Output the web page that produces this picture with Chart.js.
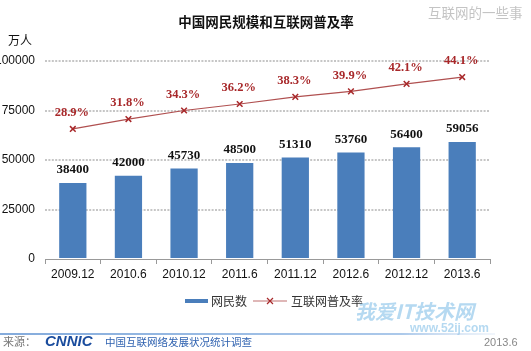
<!DOCTYPE html>
<html>
<head>
<meta charset="utf-8">
<script src="https://cdn.jsdelivr.net/npm/chart.js@4"></script>
<style>
  html, body { margin: 0; padding: 0; background: #fff; }
  #wrap { width: 531px; height: 351px; position: relative; }
</style>
</head>
<body>
<div id="wrap"><canvas id="chart" width="531" height="351"></canvas></div>
<script>
// data
const periods = ['2009.12', '2010.6', '2010.12', '2011.6', '2011.12', '2012.6', '2012.12', '2013.6'];
const netizens = [38400, 42000, 45730, 48500, 51310, 53760, 56400, 59056];
const penetration = [28.9, 31.8, 34.3, 36.2, 38.3, 39.9, 42.1, 44.1];
const yTicks = [0, 25000, 50000, 75000, 100000];

const CJK = '"Noto Sans CJK SC", sans-serif';
const BLUE = '#4a7ebb';
const RED = '#a8282a';

// texts around the plot + value labels
const decor = {
  id: 'decor',
  afterDatasetsDraw(chart) {
    const c = chart.ctx;
    c.save();

    // value labels above bars
    c.textAlign = 'center';
    c.textBaseline = 'middle';
    c.font = 'bold 13px "Liberation Serif", serif';
    c.fillStyle = '#111';
    chart.getDatasetMeta(1).data.forEach((el, i) => {
      c.fillText(String(netizens[i]), el.x, el.y - 13);
    });
    // percentage labels above line points
    c.font = 'bold 12.5px "Liberation Serif", serif';
    c.fillStyle = RED;
    chart.getDatasetMeta(0).data.forEach((el, i) => {
      c.fillText(penetration[i].toFixed(1) + '%', el.x - 1, el.y - 16);
    });
    c.restore();
  },
  afterDraw(chart) {
    const c = chart.ctx;
    c.save();
    c.textBaseline = 'middle';

    // title
    c.textAlign = 'center';
    c.fillStyle = '#111';
    c.font = 'bold 13.5px ' + CJK;
    c.fillText('中国网民规模和互联网普及率', 266, 22);

    // watermark top right
    c.textAlign = 'left';
    c.fillStyle = '#c4c4c4';
    c.font = '13.5px ' + CJK;
    c.fillText('互联网的一些事', 428, 13);

    // unit
    c.fillStyle = '#111';
    c.font = '12px ' + CJK;
    c.fillText('万人', 8, 40);

    // legend
    c.fillStyle = BLUE;
    c.fillRect(185, 299, 23, 4);
    c.fillStyle = '#333';
    c.font = '12px ' + CJK;
    c.fillText('网民数', 211, 301);
    c.strokeStyle = '#c07070';
    c.lineWidth = 1.2;
    c.beginPath(); c.moveTo(253, 301); c.lineTo(287, 301); c.stroke();
    c.strokeStyle = RED;
    c.beginPath();
    c.moveTo(267, 298); c.lineTo(273, 304);
    c.moveTo(273, 298); c.lineTo(267, 304);
    c.stroke();
    c.fillStyle = '#333';
    c.fillText('互联网普及率', 291, 301);

    // 52ij watermark
    c.fillStyle = 'rgba(90,170,225,0.45)';
    c.font = 'bold italic 20px ' + CJK;
    c.fillText('我爱IT技术网', 355, 311);
    c.font = 'bold 12px "Liberation Sans", sans-serif';
    c.fillText('www.52ij.com', 410, 329);

    // footer
    const g = c.createLinearGradient(0, 0, 500, 0);
    g.addColorStop(0, '#5b8fd0');
    g.addColorStop(0.8, '#8fb6e3');
    g.addColorStop(1, 'rgba(180,205,235,0.2)');
    c.strokeStyle = g;
    c.lineWidth = 1.5;
    c.beginPath(); c.moveTo(0, 334); c.lineTo(495, 334); c.stroke();
    c.fillStyle = '#777';
    c.font = '11px ' + CJK;
    c.fillText('来源：', 3, 342);
    c.fillStyle = '#1b4d9e';
    c.font = 'bold italic 15px "Liberation Sans", sans-serif';
    c.fillText('CNNIC', 45, 342);
    c.fillStyle = '#2f62b0';
    c.font = '10.5px ' + CJK;
    c.fillText('中国互联网络发展状况统计调查', 105, 342);
    c.fillStyle = '#888';
    c.font = '11px "Liberation Sans", sans-serif';
    c.fillText('2013.6', 484, 343);

    c.restore();
  }
};

new Chart(document.getElementById('chart'), {
  data: {
    labels: periods,
    datasets: [
      {
        type: 'line',
        label: '互联网普及率',
        data: penetration,
        yAxisID: 'y2',
        borderColor: '#b05050',
        borderWidth: 1.2,
        pointStyle: 'crossRot',
        pointRadius: 4,
        pointBorderWidth: 1.5,
        pointBorderColor: RED,
        tension: 0,
        order: 0
      },
      {
        type: 'bar',
        label: '网民数',
        data: netizens,
        yAxisID: 'y',
        backgroundColor: BLUE,
        categoryPercentage: 1,
        barPercentage: 0.49,
        order: 1
      }
    ]
  },
  options: {
    responsive: false,
    animation: false,
    events: [],
    layout: { padding: { top: 61, right: 41, bottom: 62, left: 0 } },
    plugins: {
      legend: { display: false },
      title: { display: false },
      tooltip: { enabled: false }
    },
    scales: {
      x: {
        offset: true,
        grid: { drawOnChartArea: false, drawTicks: true, tickLength: 5, color: '#999', offset: true },
        border: { display: true, color: '#999', width: 1 },
        ticks: { padding: 3, color: '#111', font: { family: '"Liberation Sans", sans-serif', size: 12 } },
        afterFit(s) { s.height = 30; }
      },
      y: {
        min: 0,
        max: 100000,
        afterBuildTicks(s) { s.ticks = yTicks.map(v => ({ value: v })); },
        grid: {
          drawTicks: false,
          lineWidth: 2,
          color: ctx => (ctx.tick && ctx.tick.value === 0) ? 'rgba(0,0,0,0)' : '#c6c6c6'
        },
        border: { display: false, dash: [2, 1.4] },
        ticks: {
          padding: 10,
          color: '#111',
          font: { family: '"Liberation Sans", sans-serif', size: 12 },
          callback: v => String(v)
        },
        afterFit(s) { s.width = 45; }
      },
      y2: {
        display: false,
        min: -9.2,
        max: 48.8
      }
    }
  },
  plugins: [decor]
});
</script>
</body>
</html>
